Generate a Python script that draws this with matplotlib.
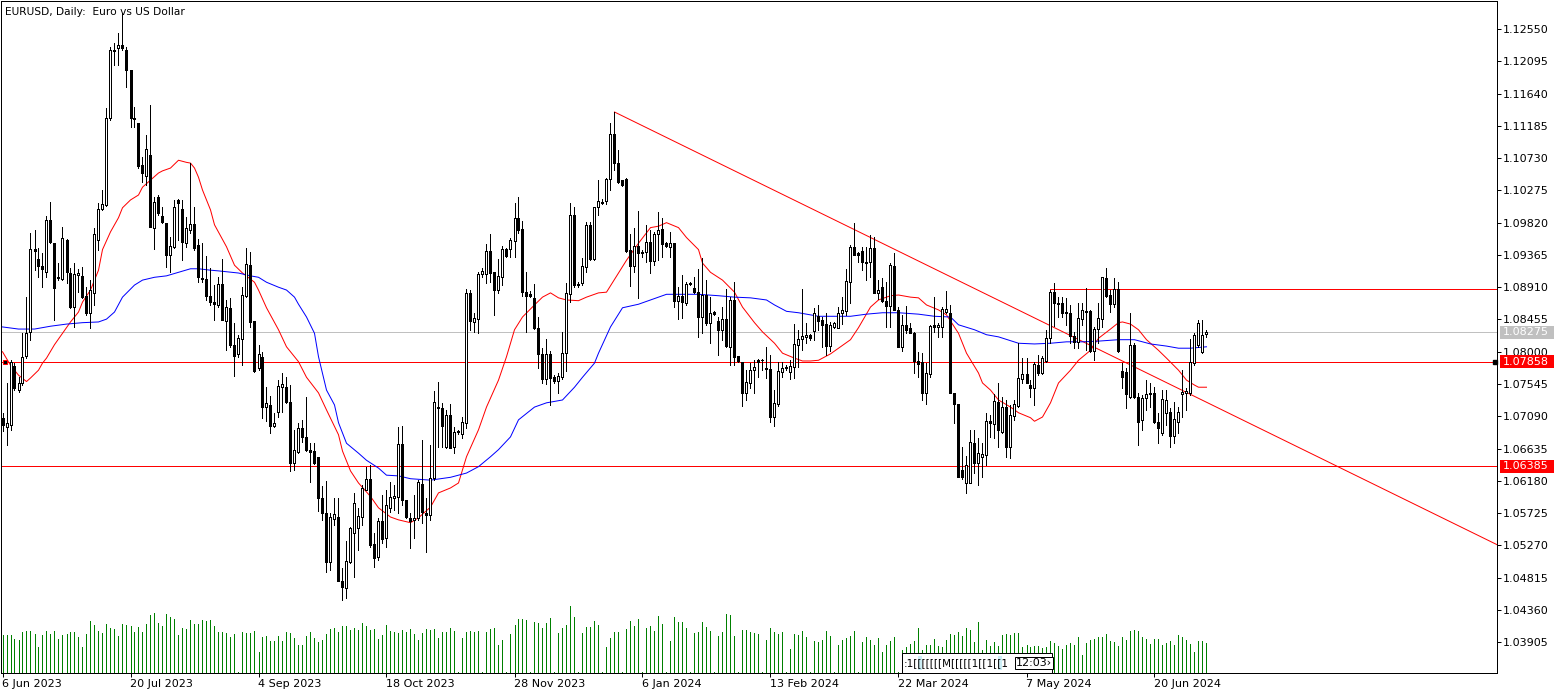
import numpy as np
import matplotlib
matplotlib.use('Agg')
import matplotlib.pyplot as plt
from matplotlib.patches import Rectangle
from matplotlib.transforms import blended_transform_factory

# daily EURUSD candles
opens = [1.0707, 1.0694, 1.0697, 1.0780, 1.0746, 1.0756, 1.0794, 1.0828, 1.0945, 1.0931,
         1.0921, 1.0912, 1.0986, 1.0953, 1.0905, 1.0903, 1.0958, 1.0911, 1.0863, 1.0908,
         1.0907, 1.0879, 1.0855, 1.0883, 1.0958, 1.1001, 1.1007, 1.1130, 1.1225, 1.1228,
         1.1233, 1.1225, 1.1197, 1.1130, 1.1123, 1.1063, 1.1048, 1.1077, 1.0975, 1.1018,
         1.0991, 1.0982, 1.0936, 1.0948, 1.1014, 1.1001, 1.0953, 1.0972, 1.0980, 1.0951,
         1.0904, 1.0903, 1.0879, 1.0870, 1.0866, 1.0896, 1.0843, 1.0862, 1.0810, 1.0797,
         1.0818, 1.0879, 1.0922, 1.0843, 1.0777, 1.0793, 1.0722, 1.0725, 1.0695, 1.0715,
         1.0750, 1.0750, 1.0729, 1.0643, 1.0659, 1.0693, 1.0680, 1.0662, 1.0660, 1.0652,
         1.0594, 1.0573, 1.0503, 1.0564, 1.0567, 1.0477, 1.0467, 1.0504, 1.0544, 1.0552,
         1.0567, 1.0605, 1.0621, 1.0529, 1.0511, 1.0561, 1.0537, 1.0580, 1.0594, 1.0595,
         1.0670, 1.0591, 1.0566, 1.0563, 1.0566, 1.0614, 1.0573, 1.0570, 1.0622, 1.0722,
         1.0721, 1.0666, 1.0711, 1.0666, 1.0687, 1.0684, 1.0700, 1.0883, 1.0842, 1.0846,
         1.0910, 1.0910, 1.0942, 1.0912, 1.0887, 1.0905, 1.0945, 1.0945, 1.0956, 1.0989,
         1.0973, 1.0884, 1.0881, 1.0876, 1.0834, 1.0797, 1.0761, 1.0797, 1.0764, 1.0759,
         1.0764, 1.0798, 1.0881, 1.0993, 1.0896, 1.0897, 1.0920, 1.0979, 1.0931, 1.1004,
         1.1011, 1.1012, 1.1044, 1.1107, 1.1066, 1.1042, 1.1044, 1.0944, 1.0921, 1.0949,
         1.0941, 1.0941, 1.0955, 1.0928, 1.0966, 1.0973, 1.0953, 1.0948, 1.0953, 1.0872,
         1.0879, 1.0869, 1.0897, 1.0890, 1.0884, 1.0849, 1.0880, 1.0841, 1.0856, 1.0843,
         1.0831, 1.0846, 1.0807, 1.0873, 1.0794, 1.0786, 1.0742, 1.0756, 1.0774, 1.0788,
         1.0788, 1.0777, 1.0776, 1.0708, 1.0726, 1.0771, 1.0777, 1.0771, 1.0779, 1.0810,
         1.0818, 1.0821, 1.0824, 1.0829, 1.0851, 1.0845, 1.0839, 1.0808, 1.0835, 1.0834,
         1.0855, 1.0858, 1.0898, 1.0948, 1.0939, 1.0942, 1.0925, 1.0927, 1.0946, 1.0883,
         1.0891, 1.0872, 1.0865, 1.0921, 1.0859, 1.0807, 1.0838, 1.0834, 1.0826, 1.0787,
         1.0785, 1.0742, 1.0769, 1.0838, 1.0835, 1.0835, 1.0856, 1.0855, 1.0742, 1.0726,
         1.0633, 1.0615, 1.0615, 1.0671, 1.0643, 1.0652, 1.0655, 1.0702, 1.0698, 1.0729,
         1.0687, 1.0722, 1.0666, 1.0709, 1.0723, 1.0762, 1.0769, 1.0753, 1.0749, 1.0781,
         1.0770, 1.0787, 1.0819, 1.0884, 1.0869, 1.0869, 1.0856, 1.0855, 1.0822, 1.0814,
         1.0846, 1.0858, 1.0858, 1.0801, 1.0832, 1.0846, 1.0904, 1.0880, 1.0867, 1.0889,
         1.0773, 1.0771, 1.0736, 1.0810, 1.0736, 1.0704, 1.0735, 1.0740, 1.0742, 1.0701,
         1.0686, 1.0714, 1.0715, 1.0681, 1.0701, 1.0740, 1.0742, 1.0742, 1.0784, 1.0810,
         1.0800, 1.0825]
highs = [1.0714, 1.0756, 1.0788, 1.0784, 1.0764, 1.0826, 1.0877, 1.0967, 1.0972, 1.0946,
         1.0939, 1.0991, 1.1011, 1.0953, 1.0925, 1.0976, 1.0959, 1.0918, 1.0925, 1.0917,
         1.0919, 1.0891, 1.0901, 1.0974, 1.1010, 1.1028, 1.1144, 1.1230, 1.1235, 1.1249,
         1.1278, 1.1230, 1.1197, 1.1145, 1.1123, 1.1075, 1.1106, 1.1148, 1.1018, 1.1021,
         1.1004, 1.0982, 1.0962, 1.1014, 1.1015, 1.1014, 1.0990, 1.1066, 1.1004, 1.0959,
         1.0953, 1.0935, 1.0918, 1.0894, 1.0905, 1.0931, 1.0873, 1.0876, 1.0841, 1.0824,
         1.0891, 1.0946, 1.0941, 1.0843, 1.0810, 1.0800, 1.0750, 1.0737, 1.0714, 1.0760,
         1.0770, 1.0764, 1.0753, 1.0690, 1.0700, 1.0704, 1.0736, 1.0671, 1.0671, 1.0652,
         1.0611, 1.0618, 1.0573, 1.0594, 1.0594, 1.0495, 1.0533, 1.0553, 1.0601, 1.0580,
         1.0612, 1.0638, 1.0640, 1.0544, 1.0566, 1.0598, 1.0605, 1.0616, 1.0612, 1.0694,
         1.0695, 1.0591, 1.0573, 1.0598, 1.0619, 1.0676, 1.0594, 1.0669, 1.0745, 1.0757,
         1.0728, 1.0718, 1.0726, 1.0694, 1.0690, 1.0708, 1.0889, 1.0887, 1.0855, 1.0912,
         1.0918, 1.0952, 1.0966, 1.0912, 1.0931, 1.0949, 1.0946, 1.0960, 1.1010, 1.1018,
         1.0984, 1.0912, 1.0886, 1.0896, 1.0849, 1.0805, 1.0818, 1.0801, 1.0767, 1.0770,
         1.0828, 1.0897, 1.1010, 1.1004, 1.0898, 1.0932, 1.0983, 1.0983, 1.1004, 1.1042,
         1.1015, 1.1045, 1.1123, 1.1138, 1.1084, 1.1042, 1.1045, 1.0966, 1.0974, 1.0998,
         1.0944, 1.0979, 1.0972, 1.0969, 1.0997, 1.0989, 1.0955, 1.0969, 1.0953, 1.0891,
         1.0908, 1.0898, 1.0898, 1.0905, 1.0917, 1.0932, 1.0901, 1.0877, 1.0858, 1.0849,
         1.0863, 1.0889, 1.0877, 1.0898, 1.0794, 1.0786, 1.0774, 1.0784, 1.0788, 1.0790,
         1.0790, 1.0807, 1.0796, 1.0746, 1.0786, 1.0786, 1.0781, 1.0788, 1.0839, 1.0831,
         1.0889, 1.0841, 1.0825, 1.0862, 1.0866, 1.0849, 1.0855, 1.0842, 1.0842, 1.0863,
         1.0877, 1.0917, 1.0951, 1.0982, 1.0941, 1.0948, 1.0948, 1.0965, 1.0962, 1.0901,
         1.0904, 1.0898, 1.0925, 1.0939, 1.0863, 1.0852, 1.0865, 1.0841, 1.0828, 1.0800,
         1.0798, 1.0784, 1.0838, 1.0877, 1.0841, 1.0863, 1.0886, 1.0866, 1.0742, 1.0726,
         1.0666, 1.0653, 1.0690, 1.0690, 1.0678, 1.0671, 1.0714, 1.0711, 1.0740, 1.0756,
         1.0736, 1.0732, 1.0725, 1.0732, 1.0812, 1.0791, 1.0791, 1.0760, 1.0786, 1.0796,
         1.0794, 1.0831, 1.0887, 1.0897, 1.0877, 1.0877, 1.0876, 1.0866, 1.0828, 1.0869,
         1.0869, 1.0890, 1.0859, 1.0835, 1.0869, 1.0905, 1.0918, 1.0887, 1.0904, 1.0898,
         1.0784, 1.0777, 1.0855, 1.0812, 1.0742, 1.0739, 1.0760, 1.0756, 1.0750, 1.0714,
         1.0746, 1.0746, 1.0721, 1.0729, 1.0722, 1.0774, 1.0749, 1.0818, 1.0826, 1.0845,
         1.0845, 1.0831]
lows = [1.0688, 1.0669, 1.0690, 1.0746, 1.0743, 1.0753, 1.0791, 1.0817, 1.0915, 1.0905,
        1.0891, 1.0905, 1.0953, 1.0845, 1.0901, 1.0901, 1.0897, 1.0862, 1.0835, 1.0884,
        1.0876, 1.0852, 1.0834, 1.0866, 1.0944, 1.1000, 1.1006, 1.1127, 1.1204, 1.1204,
        1.1225, 1.1173, 1.1117, 1.1117, 1.1059, 1.1039, 1.1035, 1.0976, 1.0945, 1.0993,
        1.0982, 1.0919, 1.0912, 1.0946, 1.0958, 1.0929, 1.0948, 1.0967, 1.0944, 1.0898,
        1.0898, 1.0873, 1.0866, 1.0845, 1.0863, 1.0845, 1.0802, 1.0807, 1.0766, 1.0793,
        1.0781, 1.0877, 1.0835, 1.0772, 1.0774, 1.0707, 1.0702, 1.0685, 1.0694, 1.0708,
        1.0715, 1.0728, 1.0632, 1.0633, 1.0657, 1.0673, 1.0660, 1.0616, 1.0642, 1.0575,
        1.0563, 1.0489, 1.0492, 1.0556, 1.0477, 1.0450, 1.0453, 1.0502, 1.0482, 1.0520,
        1.0556, 1.0605, 1.0525, 1.0497, 1.0506, 1.0530, 1.0525, 1.0574, 1.0577, 1.0573,
        1.0584, 1.0566, 1.0523, 1.0537, 1.0563, 1.0559, 1.0518, 1.0563, 1.0619, 1.0666,
        1.0666, 1.0664, 1.0664, 1.0657, 1.0684, 1.0678, 1.0693, 1.0831, 1.0828, 1.0826,
        1.0905, 1.0897, 1.0898, 1.0852, 1.0883, 1.0894, 1.0934, 1.0934, 1.0934, 1.0967,
        1.0879, 1.0828, 1.0877, 1.0832, 1.0777, 1.0756, 1.0755, 1.0725, 1.0756, 1.0742,
        1.0761, 1.0773, 1.0870, 1.0891, 1.0891, 1.0894, 1.0912, 1.0929, 1.0929, 1.0993,
        1.1008, 1.1008, 1.1028, 1.1056, 1.1038, 1.1034, 1.0941, 1.0893, 1.0912, 1.0876,
        1.0934, 1.0927, 1.0911, 1.0922, 1.0929, 1.0934, 1.0948, 1.0934, 1.0863, 1.0846,
        1.0848, 1.0866, 1.0894, 1.0883, 1.0821, 1.0826, 1.0838, 1.0812, 1.0852, 1.0796,
        1.0817, 1.0807, 1.0781, 1.0781, 1.0786, 1.0724, 1.0732, 1.0749, 1.0742, 1.0764,
        1.0774, 1.0763, 1.0701, 1.0695, 1.0724, 1.0764, 1.0774, 1.0762, 1.0763, 1.0779,
        1.0802, 1.0812, 1.0817, 1.0817, 1.0831, 1.0807, 1.0796, 1.0801, 1.0834, 1.0834,
        1.0839, 1.0852, 1.0869, 1.0936, 1.0927, 1.0915, 1.0901, 1.0905, 1.0883, 1.0874,
        1.0870, 1.0835, 1.0835, 1.0859, 1.0807, 1.0801, 1.0826, 1.0826, 1.0770, 1.0764,
        1.0732, 1.0726, 1.0764, 1.0828, 1.0821, 1.0821, 1.0855, 1.0742, 1.0700, 1.0623,
        1.0621, 1.0601, 1.0615, 1.0629, 1.0612, 1.0623, 1.0640, 1.0680, 1.0678, 1.0666,
        1.0685, 1.0652, 1.0650, 1.0704, 1.0722, 1.0756, 1.0756, 1.0736, 1.0725, 1.0767,
        1.0769, 1.0786, 1.0812, 1.0836, 1.0849, 1.0849, 1.0838, 1.0812, 1.0805, 1.0805,
        1.0838, 1.0802, 1.0800, 1.0788, 1.0812, 1.0835, 1.0877, 1.0856, 1.0863, 1.0800,
        1.0749, 1.0721, 1.0735, 1.0735, 1.0669, 1.0690, 1.0718, 1.0722, 1.0700, 1.0671,
        1.0683, 1.0697, 1.0666, 1.0671, 1.0685, 1.0708, 1.0718, 1.0739, 1.0781, 1.0807,
        1.0798, 1.0821]
closes = [1.0697, 1.0700, 1.0786, 1.0749, 1.0756, 1.0793, 1.0826, 1.0945, 1.0942, 1.0921,
          1.0917, 1.0986, 1.0955, 1.0890, 1.0904, 1.0960, 1.0912, 1.0863, 1.0910, 1.0911,
          1.0877, 1.0855, 1.0887, 1.0966, 1.1001, 1.1008, 1.1130, 1.1225, 1.1224, 1.1233,
          1.1228, 1.1197, 1.1130, 1.1128, 1.1062, 1.1052, 1.1086, 1.0976, 1.1011, 1.0996,
          1.0983, 1.0936, 1.0949, 1.1004, 1.1010, 1.0955, 1.0975, 1.0980, 1.0946, 1.0905,
          1.0903, 1.0879, 1.0870, 1.0867, 1.0896, 1.0845, 1.0863, 1.0810, 1.0794, 1.0819,
          1.0880, 1.0924, 1.0842, 1.0773, 1.0797, 1.0722, 1.0728, 1.0695, 1.0700, 1.0752,
          1.0755, 1.0729, 1.0643, 1.0662, 1.0693, 1.0680, 1.0662, 1.0659, 1.0643, 1.0594,
          1.0573, 1.0504, 1.0567, 1.0571, 1.0477, 1.0468, 1.0505, 1.0552, 1.0587, 1.0568,
          1.0608, 1.0621, 1.0528, 1.0509, 1.0561, 1.0536, 1.0584, 1.0595, 1.0597, 1.0670,
          1.0591, 1.0567, 1.0561, 1.0566, 1.0616, 1.0574, 1.0570, 1.0622, 1.0729, 1.0721,
          1.0695, 1.0711, 1.0664, 1.0687, 1.0688, 1.0701, 1.0883, 1.0843, 1.0848, 1.0910,
          1.0914, 1.0942, 1.0911, 1.0887, 1.0907, 1.0945, 1.0935, 1.0958, 1.0989, 1.0972,
          1.0884, 1.0879, 1.0879, 1.0834, 1.0797, 1.0761, 1.0797, 1.0763, 1.0759, 1.0766,
          1.0798, 1.0883, 1.0993, 1.0894, 1.0894, 1.0921, 1.0979, 1.0931, 1.1004, 1.1012,
          1.1010, 1.1044, 1.1107, 1.1066, 1.1039, 1.1035, 1.0942, 1.0921, 1.0949, 1.0939,
          1.0939, 1.0955, 1.0928, 1.0966, 1.0972, 1.0952, 1.0949, 1.0953, 1.0872, 1.0879,
          1.0870, 1.0896, 1.0896, 1.0884, 1.0849, 1.0880, 1.0841, 1.0855, 1.0853, 1.0831,
          1.0846, 1.0808, 1.0873, 1.0793, 1.0787, 1.0742, 1.0758, 1.0774, 1.0778, 1.0786,
          1.0789, 1.0776, 1.0708, 1.0728, 1.0773, 1.0777, 1.0778, 1.0780, 1.0811, 1.0818,
          1.0822, 1.0824, 1.0819, 1.0855, 1.0843, 1.0838, 1.0808, 1.0838, 1.0841, 1.0855,
          1.0859, 1.0900, 1.0948, 1.0936, 1.0936, 1.0927, 1.0927, 1.0946, 1.0883, 1.0887,
          1.0872, 1.0865, 1.0922, 1.0859, 1.0807, 1.0838, 1.0831, 1.0826, 1.0787, 1.0783,
          1.0742, 1.0770, 1.0836, 1.0835, 1.0838, 1.0860, 1.0860, 1.0742, 1.0726, 1.0623,
          1.0623, 1.0640, 1.0673, 1.0643, 1.0657, 1.0656, 1.0702, 1.0700, 1.0731, 1.0690,
          1.0722, 1.0666, 1.0711, 1.0726, 1.0763, 1.0769, 1.0756, 1.0749, 1.0783, 1.0770,
          1.0791, 1.0819, 1.0884, 1.0869, 1.0867, 1.0855, 1.0855, 1.0822, 1.0814, 1.0848,
          1.0859, 1.0856, 1.0801, 1.0832, 1.0848, 1.0905, 1.0879, 1.0867, 1.0889, 1.0801,
          1.0764, 1.0740, 1.0810, 1.0736, 1.0701, 1.0735, 1.0740, 1.0742, 1.0701, 1.0693,
          1.0733, 1.0732, 1.0681, 1.0705, 1.0715, 1.0743, 1.0745, 1.0786, 1.0824, 1.0841,
          1.0824, 1.08275]
# tick volume (relative units)
volumes = [38,
           38, 38, 34, 33, 41, 42, 42, 39, 26, 38, 42, 39, 42, 34, 38, 39, 41, 41, 36, 26,
           39, 52, 48, 42, 40, 49, 45, 44, 37, 49, 48, 47, 41, 46, 41, 49, 58, 60, 50, 47,
           59, 56, 54, 38, 45, 44, 53, 49, 49, 53, 52, 53, 47, 41, 41, 40, 36, 39, 1, 41,
           40, 40, 42, 21, 36, 37, 32, 32, 37, 32, 41, 40, 35, 28, 28, 37, 41, 35, 31, 33,
           39, 44, 45, 41, 47, 47, 43, 45, 43, 50, 47, 43, 44, 34, 38, 48, 42, 41, 40, 43,
           41, 44, 39, 33, 40, 44, 43, 44, 35, 41, 41, 45, 42, 1, 35, 41, 42, 41, 42, 1,
           41, 44, 45, 28, 33, 1, 39, 48, 54, 54, 53, 1, 51, 50, 45, 50, 55, 1, 40, 45,
           48, 67, 56, 1, 40, 46, 46, 52, 48, 1, 26, 35, 41, 41, 1, 44, 52, 47, 54, 1,
           45, 47, 42, 57, 49, 1, 32, 56, 51, 51, 45, 1, 40, 41, 51, 46, 42, 1, 37, 41,
           59, 58, 37, 1, 43, 43, 41, 40, 39, 1, 33, 45, 41, 39, 41, 1, 24, 39, 38, 42,
           36, 1, 32, 31, 33, 42, 37, 1, 28, 33, 35, 37, 42, 1, 31, 36, 33, 28, 35, 21,
           28, 32, 36, 1, 23, 26, 29, 32, 45, 23, 28, 28, 34, 27, 26, 33, 39, 38, 41, 37,
           45, 43, 31, 51, 23, 33, 27, 31, 27, 38, 39, 38, 40, 40, 26, 28, 26, 27, 27, 25,
           26, 32, 30, 27, 24, 28, 30, 28, 36, 18, 30, 33, 34, 36, 36, 39, 32, 31, 27, 36,
           33, 42, 43, 42, 36, 34, 29, 34, 34, 28, 30, 32, 28, 38, 36, 33, 29, 21, 32, 32,
           30]

# moving averages as drawn on the chart (bar index, value)
ma_fast_bar = [0, 2, 4, 6, 7, 9, 10, 11, 13, 15, 17, 19, 20, 22, 24, 25, 27, 29, 30, 32,
               34, 35, 37, 39, 40, 42, 44, 46, 47, 48, 49, 50, 52, 53, 56, 58, 60, 63, 64, 66,
               69, 71, 74, 76, 79, 81, 84, 85, 87, 89, 92, 94, 97, 99, 102, 104, 107, 109, 112, 114,
               116, 119, 121, 124, 126, 128, 130, 133, 135, 137, 139, 141, 144, 146, 149, 151, 154, 156, 159, 162,
               164, 166, 169, 171, 174, 175, 177, 180, 183, 185, 188, 190, 193, 195, 198, 200, 202, 204, 207, 209,
               212, 214, 217, 219, 222, 224, 227, 229, 231, 234, 236, 239, 241, 244, 245, 247, 249, 252, 254, 257,
               258, 260, 262, 264, 267, 269, 272, 274, 277, 279, 280, 282, 284, 286, 289, 291, 294, 296, 298, 299,
               301]
ma_fast = [1.0800, 1.0781, 1.0767, 1.0758, 1.0763, 1.0774, 1.0784, 1.0791, 1.0810, 1.0826,
           1.0842, 1.0856, 1.0870, 1.0887, 1.0915, 1.0944, 1.0969, 1.0989, 1.1003, 1.1014,
           1.1021, 1.1032, 1.1042, 1.1052, 1.1055, 1.1059, 1.1070, 1.1067, 1.1066, 1.1059,
           1.1046, 1.1028, 1.1000, 1.0979, 1.0948, 1.0922, 1.0911, 1.0898, 1.0887, 1.0862,
           1.0831, 1.0807, 1.0786, 1.0764, 1.0742, 1.0718, 1.0683, 1.0660, 1.0632, 1.0615,
           1.0596, 1.0580, 1.0567, 1.0563, 1.0559, 1.0566, 1.0581, 1.0601, 1.0608, 1.0615,
           1.0652, 1.0690, 1.0722, 1.0760, 1.0793, 1.0831, 1.0849, 1.0866, 1.0877, 1.0883,
           1.0876, 1.0873, 1.0872, 1.0877, 1.0883, 1.0884, 1.0911, 1.0929, 1.0953, 1.0975,
           1.0977, 1.0982, 1.0975, 1.0961, 1.0944, 1.0925, 1.0912, 1.0901, 1.0884, 1.0863,
           1.0841, 1.0828, 1.0812, 1.0798, 1.0791, 1.0787, 1.0787, 1.0788, 1.0797, 1.0805,
           1.0817, 1.0834, 1.0863, 1.0873, 1.0879, 1.0880, 1.0877, 1.0876, 1.0866, 1.0859,
           1.0852, 1.0826, 1.0798, 1.0770, 1.0756, 1.0746, 1.0732, 1.0722, 1.0714, 1.0707,
           1.0702, 1.0708, 1.0728, 1.0756, 1.0774, 1.0788, 1.0802, 1.0819, 1.0832, 1.0841,
           1.0842, 1.0839, 1.0831, 1.0817, 1.0802, 1.0791, 1.0774, 1.0760, 1.0753, 1.0750,
           1.0750]
ma_slow_bar = [0, 4, 8, 12, 16, 20, 24, 26, 28, 30, 33, 35, 38, 41, 44, 47, 49, 52, 54, 59,
               62, 64, 66, 69, 71, 73, 74, 76, 78, 79, 81, 83, 84, 86, 89, 91, 94, 96, 99, 102,
               107, 112, 116, 119, 122, 124, 127, 129, 133, 136, 140, 143, 145, 148, 149, 152, 155, 159, 162, 166,
               170, 174, 179, 183, 187, 191, 193, 196, 199, 204, 208, 212, 216, 220, 224, 229, 233, 237, 239, 243,
               246, 249, 254, 258, 262, 266, 270, 274, 279, 283, 287, 291, 294, 297, 301]
ma_slow = [1.0835, 1.0832, 1.0832, 1.0836, 1.0839, 1.0841, 1.0842, 1.0846, 1.0856, 1.0877,
           1.0894, 1.0901, 1.0905, 1.0907, 1.0912, 1.0917, 1.0917, 1.0915, 1.0914, 1.0911,
           1.0907, 1.0905, 1.0898, 1.0891, 1.0887, 1.0877, 1.0867, 1.0849, 1.0826, 1.0793,
           1.0746, 1.0725, 1.0700, 1.0671, 1.0657, 1.0647, 1.0636, 1.0626, 1.0625, 1.0621,
           1.0619, 1.0623, 1.0629, 1.0638, 1.0652, 1.0662, 1.0680, 1.0704, 1.0722, 1.0728,
           1.0732, 1.0750, 1.0764, 1.0784, 1.0798, 1.0835, 1.0862, 1.0867, 1.0873, 1.0881,
           1.0881, 1.0881, 1.0879, 1.0877, 1.0876, 1.0873, 1.0866, 1.0857, 1.0855, 1.0850,
           1.0850, 1.0850, 1.0853, 1.0855, 1.0855, 1.0853, 1.0850, 1.0849, 1.0838, 1.0831,
           1.0824, 1.0821, 1.0812, 1.0811, 1.0812, 1.0814, 1.0814, 1.0815, 1.0817, 1.0817,
           1.0811, 1.0808, 1.0805, 1.0805, 1.0807]

date_bars = [0, 32, 64, 96, 128, 160, 192, 224, 256, 288]
date_labels = ['6 Jun 2023', '20 Jul 2023', '4 Sep 2023', '18 Oct 2023', '28 Nov 2023',
               '6 Jan 2024', '13 Feb 2024', '22 Mar 2024', '7 May 2024', '20 Jun 2024']
price_ticks = [1.03905, 1.04360, 1.04815, 1.05270, 1.05725, 1.06180, 1.06635, 1.07090,
               1.07545, 1.08000, 1.08455, 1.08910, 1.09365, 1.09820, 1.10275, 1.10730,
               1.11185, 1.11640, 1.12095, 1.12550]
levels = [1.07858, 1.06385]
bid = 1.08275
resist_price, resist_from = 1.0888, 262
trend_bars, trend_prices = [153, 374], [1.1138, 1.0527]

W, H = 1567, 697
LW = 0.72  # one pixel
XMAX = 373.625

fig = plt.figure(figsize=(W / 100, H / 100), dpi=100)
ax = fig.add_axes([1 / W, 24 / H, 1496 / W, 672 / H])
ax.set_xlim(-0.375, XMAX)
ax.set_ylim(1.03471, 1.12945)

# tick volume at the bottom, behind the candles
axv = ax.twinx()
axv.set_ylim(0, 672)
bars = np.arange(len(opens))
axv.vlines(bars, 0, volumes, color='#008000', lw=LW, antialiased=False)
axv.axis('off')
axv.set_zorder(ax.get_zorder() - 1)
ax.patch.set_visible(False)

# levels and lines
for lv in levels:
    ax.plot([-0.375, XMAX], [lv, lv], color='#FF0000', lw=LW, zorder=1, antialiased=False)
ax.plot([-0.375, XMAX], [bid, bid], color='#C0C0C0', lw=LW, zorder=1, antialiased=False)
ax.plot([resist_from, XMAX], [resist_price, resist_price], color='#FF0000', lw=LW, zorder=1,
        antialiased=False)
ax.plot(trend_bars, trend_prices, color='#FF0000', lw=LW, zorder=1)

ax.plot(ma_fast_bar, ma_fast, color='#FF0000', lw=LW, zorder=2)
ax.plot(ma_slow_bar, ma_slow, color='#0000FF', lw=LW, zorder=2)

# candles
o = np.array(opens); c = np.array(closes)
up = c >= o
ax.vlines(bars, lows, highs, color='black', lw=LW, zorder=3, antialiased=False)
ax.bar(bars, np.abs(c - o), bottom=np.minimum(o, c), width=0.5,
       color=np.where(up, 'white', 'black'), edgecolor='black', linewidth=LW, zorder=4,
       antialiased=False)

# line handles
ax.plot([0.6], [levels[0]], marker='s', ms=3.5, mfc='black', mec='#FF0000', mew=LW,
        clip_on=False, zorder=6)
ax.plot([373.1], [levels[0]], marker='s', ms=3, mfc='black', mec='black', clip_on=False, zorder=6)

# axes styling
for s in ax.spines.values():
    s.set_linewidth(LW)
    s.set_antialiased(False)
ax.yaxis.tick_right()
ax.set_yticks(price_ticks)
ax.set_yticklabels(['%.5f' % p for p in price_ticks])
ax.set_xticks(date_bars)
ax.set_xticklabels(date_labels)
for lbl in ax.get_xticklabels():
    lbl.set_ha('left')
ax.tick_params(axis='both', direction='out', length=3, width=LW, labelsize=8, colors='black')
ax.tick_params(axis='y', pad=1.5)
ax.tick_params(axis='x', pad=1.5)

# price tags on the right scale
tr = blended_transform_factory(ax.transAxes, ax.transData)
for price, col in [(bid, '#C0C0C0'), (levels[0], '#FF0000'), (levels[1], '#FF0000')]:
    ax.add_patch(Rectangle((1.002, price - 0.00092), 0.0361, 0.00184, transform=tr,
                           fc=col, ec='none', clip_on=False, zorder=7))
    ax.text(1.0038, price, '%.5f' % price, transform=tr, color='white', fontsize=8,
            va='center', ha='left', clip_on=False, zorder=8)

fig.text(5 / W, 1 - 12 / H, 'EURUSD, Daily:  Euro vs US Dollar', fontsize=7.7, va='center', ha='left')

# time scroll box at the bottom
fig.patches.append(Rectangle((902 / W, 24 / H), 150 / W, 20 / H, transform=fig.transFigure,
                             fc='white', ec='black', lw=LW, figure=fig))
for bx in (918, 998):
    fig.patches.append(Rectangle((bx / W, 27 / H), 4 / W, 14 / H, transform=fig.transFigure,
                                 fc='#CCEEF6', ec='none', figure=fig))
fig.text(904 / W, 34 / H, ':1[[[[[[[M[[[[[1[[1[[1', fontsize=7.5, va='center', ha='left')
fig.text(1016 / W, 34 / H, '12:03\u203a', fontsize=8, va='center', ha='left',
         bbox=dict(boxstyle='square,pad=0.12', fc='white', ec='black', lw=LW))

fig.savefig('out.png', dpi=100)
